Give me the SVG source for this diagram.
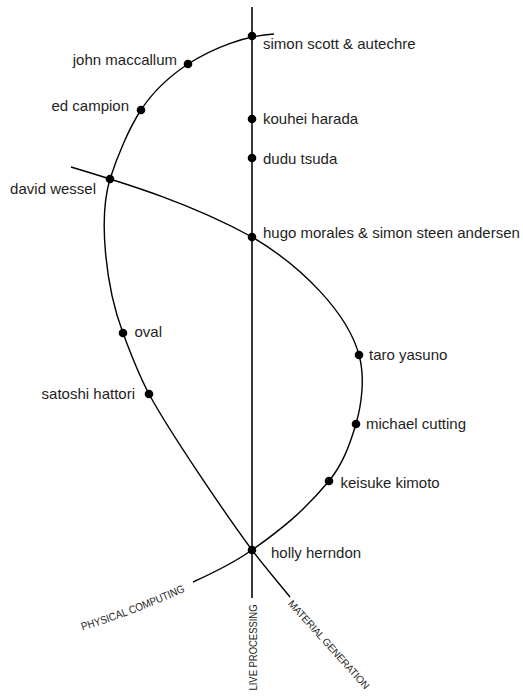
<svg xmlns="http://www.w3.org/2000/svg" width="523" height="697" viewBox="0 0 523 697">
  <style>
    .lbl { font-family: "Liberation Sans", Arial, sans-serif; font-size: 15px; fill: #1e1e1e; }
    .end { text-anchor: end; }
    .ax { font-family: "Liberation Sans", Arial, sans-serif; font-size: 11px; fill: #1e1e1e; }
    .curve { fill: none; stroke: #000; stroke-width: 1.4; }
    .axis { fill: none; stroke: #3a3a3a; stroke-width: 2; }
    .dot { fill: #000; }
  </style>
  <defs>
    <path id="pcPath" d="M 82.5,630.5 Q 141,612.5 190,589"/>
  </defs>
  <rect width="523" height="697" fill="#fff"/>

  <g id="connectors">
    <line class="axis" x1="252" y1="7" x2="252" y2="598"/>
    <path id="material-generation-curve" class="curve" d="M 274,34 C 245,35.5 213,48 188,64 C 170,76 152,93 141,110 C 129,128 117,157 110,179 C 98,219 106,288 123,333 C 130,352 140,377 149,394 C 169,431 224,512 252,550 C 265,567 277,581 290,597"/>
    <path id="physical-computing-curve" class="curve" d="M 71,167 C 131,185 192,204 252,237 C 303,267 348,314 359,355 C 365,376 362,403 356,424 C 350,444 343,464 329,481 C 304,511 282,529 252,550 C 232,564 213,573 193,582"/>
  </g>

  <g id="simon-scott">
    <circle class="dot" cx="252" cy="36" r="4.3"/>
    <text class="lbl" x="263" y="48.5">simon scott &amp; autechre</text>
  </g>
  <g id="john-maccallum">
    <circle class="dot" cx="188" cy="64" r="4.3"/>
    <text class="lbl end" x="177" y="65">john maccallum</text>
  </g>
  <g id="ed-campion">
    <circle class="dot" cx="141" cy="110" r="4.3"/>
    <text class="lbl end" x="129" y="111">ed campion</text>
  </g>
  <g id="kouhei-harada">
    <circle class="dot" cx="252" cy="119" r="4.3"/>
    <text class="lbl" x="263" y="124">kouhei harada</text>
  </g>
  <g id="dudu-tsuda">
    <circle class="dot" cx="252" cy="158" r="4.3"/>
    <text class="lbl" x="263" y="164">dudu tsuda</text>
  </g>
  <g id="david-wessel">
    <circle class="dot" cx="110" cy="179" r="4.3"/>
    <text class="lbl end" x="96" y="194">david wessel</text>
  </g>
  <g id="hugo-morales">
    <circle class="dot" cx="252" cy="237" r="4.3"/>
    <text class="lbl" x="263" y="238">hugo morales &amp; simon steen andersen</text>
  </g>
  <g id="oval">
    <circle class="dot" cx="123" cy="333" r="4.3"/>
    <text class="lbl" x="134.5" y="337">oval</text>
  </g>
  <g id="satoshi-hattori">
    <circle class="dot" cx="149" cy="394" r="4.3"/>
    <text class="lbl end" x="135" y="399">satoshi hattori</text>
  </g>
  <g id="taro-yasuno">
    <circle class="dot" cx="359" cy="355" r="4.3"/>
    <text class="lbl" x="369" y="360">taro yasuno</text>
  </g>
  <g id="michael-cutting">
    <circle class="dot" cx="356" cy="424" r="4.3"/>
    <text class="lbl" x="366" y="429">michael cutting</text>
  </g>
  <g id="keisuke-kimoto">
    <circle class="dot" cx="329" cy="481" r="4.3"/>
    <text class="lbl" x="340.5" y="488">keisuke kimoto</text>
  </g>
  <g id="holly-herndon">
    <circle class="dot" cx="252" cy="550" r="4.3"/>
    <text class="lbl" x="271" y="558">holly herndon</text>
  </g>

  <g id="axis-physical-computing">
    <text class="ax"><textPath href="#pcPath" textLength="110" lengthAdjust="spacingAndGlyphs">PHYSICAL COMPUTING</textPath></text>
  </g>
  <g id="axis-live-processing">
    <text class="ax" transform="translate(257,690.5) rotate(-90)" textLength="86" lengthAdjust="spacingAndGlyphs">LIVE PROCESSING</text>
  </g>
  <g id="axis-material-generation">
    <text class="ax" transform="translate(287.5,604) rotate(48)" style="font-size:10.2px; letter-spacing:-0.2px">MATERIAL GENERATION</text>
  </g>
</svg>
